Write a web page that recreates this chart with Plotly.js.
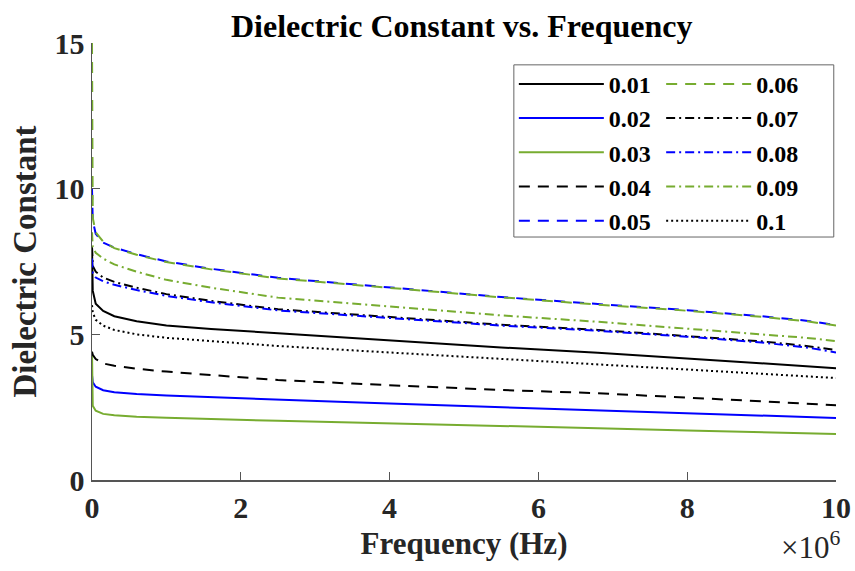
<!DOCTYPE html>
<html>
<head>
<meta charset="utf-8">
<script src="https://cdn.plot.ly/plotly-3.0.1.min.js"></script>
<style>html,body{margin:0;padding:0;background:#fff;}#chart{width:855px;height:571px;}</style>
</head>
<body>
<div id="chart"></div>
<script>
// Frequency in units of 1e6 Hz
const freq = [0, 0.01, 0.05, 0.15, 0.3, 0.6, 1.0, 1.6, 2.5, 3.5, 4.5, 5.5, 6.8, 8.0, 9.0, 9.6, 10];

const seriesNames = ["0.01","0.02","0.03","0.04","0.05","0.06","0.07","0.08","0.09","0.1"];

const s001 = [8.0, 6.5, 6.05, 5.8, 5.62, 5.45, 5.3, 5.18, 5.04, 4.88, 4.72, 4.55, 4.37, 4.17, 4.02, 3.92, 3.84];
const s002 = [3.6, 3.35, 3.2, 3.08, 3.01, 2.95, 2.9, 2.84, 2.75, 2.67, 2.58, 2.5, 2.4, 2.3, 2.21, 2.16, 2.13];
const s003 = [4.4, 2.55, 2.38, 2.27, 2.22, 2.17, 2.14, 2.09, 2.03, 1.97, 1.92, 1.86, 1.78, 1.7, 1.64, 1.6, 1.58];
const s004 = [4.4, 4.3, 4.15, 4.0, 3.92, 3.82, 3.72, 3.6, 3.43, 3.31, 3.2, 3.09, 2.98, 2.84, 2.7, 2.62, 2.57];
const s005 = [10.0, 8.9, 8.45, 8.15, 7.98, 7.75, 7.5, 7.25, 6.94, 6.72, 6.5, 6.28, 6.04, 5.83, 5.62, 5.47, 5.32];
const s006 = [15.0, 9.0, 8.5, 8.18, 7.96, 7.73, 7.48, 7.23, 6.92, 6.7, 6.48, 6.27, 6.02, 5.81, 5.6, 5.45, 5.30];
const s007 = [8.0, 7.35, 7.15, 6.95, 6.8, 6.6, 6.38, 6.15, 5.86, 5.68, 5.5, 5.33, 5.15, 4.95, 4.76, 4.6, 4.46];
const s008 = [7.6, 7.1, 6.95, 6.82, 6.7, 6.52, 6.32, 6.1, 5.82, 5.64, 5.46, 5.3, 5.12, 4.92, 4.72, 4.55, 4.38];
const s009 = [8.5, 8.0, 7.8, 7.6, 7.4, 7.15, 6.87, 6.6, 6.26, 6.05, 5.85, 5.65, 5.43, 5.2, 5.02, 4.88, 4.77];
const s010 = [6.0, 5.75, 5.5, 5.3, 5.15, 5.0, 4.88, 4.76, 4.6, 4.45, 4.3, 4.15, 3.98, 3.8, 3.65, 3.55, 3.5];

const values = [s001, s002, s003, s004, s005, s006, s007, s008, s009, s010];

const BLACK = "#000000", BLUE = "#0000ff", GREEN = "#77ac30";
const DASH = "11px,8px", DASHDOT = "9px,4px,2px,4px", DOT = "2px,3px";
const styles = [
  {color: BLACK, dash: "solid"},
  {color: BLUE, dash: "solid"},
  {color: GREEN, dash: "solid"},
  {color: BLACK, dash: DASH},
  {color: BLUE, dash: DASH},
  {color: GREEN, dash: DASH},
  {color: BLACK, dash: DASHDOT},
  {color: BLUE, dash: DASHDOT},
  {color: GREEN, dash: DASHDOT},
  {color: BLACK, dash: DOT}
];

const traces = values.map((v, i) => ({
  x: freq, y: v, type: "scatter", mode: "lines",
  name: "<b>" + seriesNames[i] + "</b>",
  legend: i < 5 ? "legend" : "legend2",
  line: {color: styles[i].color, dash: styles[i].dash, width: 2}
}));

const FONT = "Liberation Serif, Times New Roman, serif";
const TXT = "#262626";

const legendCommon = {
  orientation: "v", yanchor: "top", xanchor: "left",
  borderwidth: 0, bgcolor: "rgba(0,0,0,0)",
  font: {family: FONT, size: 24, color: "#000"},
  traceorder: "normal", itemwidth: 85, tracegroupgap: 0
};

const layout = {
  width: 855, height: 571,
  margin: {l: 92, r: 19, t: 43, b: 91},
  paper_bgcolor: "#fff", plot_bgcolor: "#fff",
  font: {family: FONT, size: 30, color: TXT},
  title: {text: "<b>Dielectric Constant vs. Frequency</b>", x: 0.54, xanchor: "center", yref: "container", y: 0.955, yanchor: "middle", font: {family: FONT, size: 32, color: "#000"}},
  xaxis: {
    range: [0, 10], tickvals: [0,2,4,6,8,10], ticktext: ["<b>0</b>","<b>2</b>","<b>4</b>","<b>6</b>","<b>8</b>","<b>10</b>"],
    ticks: "inside", ticklen: 8, tickcolor: "#555", showline: true, linecolor: "#555", linewidth: 1.5,
    showgrid: false, zeroline: false,
    tickfont: {family: FONT, size: 30, color: TXT},
    title: {text: "<b>Frequency (Hz)</b>", font: {family: FONT, size: 31, color: TXT}, standoff: 10}
  },
  yaxis: {
    range: [0, 15], tickvals: [0,5,10,15], ticktext: ["<b>0</b>","<b>5</b>","<b>10</b>","<b>15</b>"],
    ticks: "inside", ticklen: 8, tickcolor: "#555", showline: true, linecolor: "#555", linewidth: 1.5,
    showgrid: false, zeroline: false,
    tickfont: {family: FONT, size: 30, color: TXT},
    title: {text: "<b>Dielectric Constant</b>", font: {family: FONT, size: 33, color: TXT}, standoff: 8}
  },
  legend: Object.assign({}, legendCommon, {x: 0.567, y: 0.957}),
  legend2: Object.assign({}, legendCommon, {x: 0.765, y: 0.957}),
  shapes: [{
    type: "rect", xref: "paper", yref: "paper",
    x0: 0.567, x1: 0.997, y0: 0.556, y1: 0.95,
    line: {color: "#666", width: 1}, fillcolor: "rgba(0,0,0,0)", layer: "above"
  }],
  annotations: [{
    xref: "paper", yref: "paper", x: 1.008, y: -0.2, xanchor: "right", yanchor: "bottom",
    text: "×10<sup>6</sup>", showarrow: false, font: {family: FONT, size: 31, color: TXT}
  }],
  showlegend: true
};

Plotly.newPlot("chart", traces, layout, {displayModeBar: false, staticPlot: true});
</script>
</body>
</html>
